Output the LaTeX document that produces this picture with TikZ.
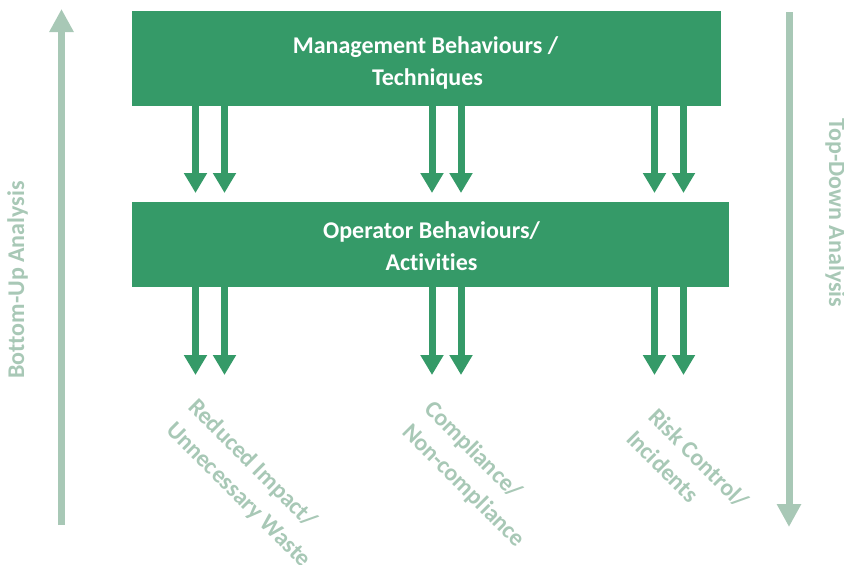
\documentclass[tikz,border=0pt]{standalone}
\usepackage{fontspec}
\setmainfont{Carlito}[Ligatures=CommonOff]
\usetikzlibrary{arrows.meta}
\definecolor{dgreen}{RGB}{53,154,104}
\definecolor{lgreen}{RGB}{168,200,182}
\begin{document}
\begin{tikzpicture}[x=1pt,y=-1pt,
  box/.style={fill=dgreen, draw=none, inner sep=0pt, rectangle},
  boxtext/.style={text=white, font=\bfseries\fontsize{24}{32}\selectfont, inner sep=0pt, anchor=base},
  outtext/.style={text=lgreen, font=\bfseries\fontsize{24}{32}\selectfont, inner sep=0pt, anchor=base west, rotate=-45},
  sidetext/.style={text=lgreen, font=\bfseries\fontsize{24}{32}\selectfont, inner sep=0pt, anchor=base},
  flow/.style={draw=dgreen, line width=7pt, -{Triangle[width=22pt,length=20pt]}},
  axis/.style={draw=lgreen, line width=7pt, -{Triangle[width=23pt,length=23pt]}}
]
\useasboundingbox (0,0) rectangle (844,565);
% boxes
\node[box, minimum width=589pt, minimum height=95pt] (mgmt) at (426.5,58.5) {};
\node[box, minimum width=597pt, minimum height=85pt] (oper) at (430.5,244.5) {};
\node[boxtext] (mgmtA) at (425.5,53) {Management Behaviours /};
\node[boxtext] (mgmtB) at (427.5,85) {Techniques};
\node[boxtext] (operA) at (431.5,238) {Operator Behaviours/};
\node[boxtext] (operB) at (431.5,270) {Activities};
% arrow tips
\coordinate (t1) at (195.5,193);
\coordinate (t2) at (224.5,193);
\coordinate (t3) at (432,193);
\coordinate (t4) at (461,193);
\coordinate (t5) at (654.5,193);
\coordinate (t6) at (683.5,193);
\coordinate (b1) at (195.5,375);
\coordinate (b2) at (224.5,375);
\coordinate (b3) at (432,375);
\coordinate (b4) at (461,375);
\coordinate (b5) at (654.5,375);
\coordinate (b6) at (683.5,375);
\foreach \i in {1,...,6}{
  \draw[flow] (mgmt.south -| t\i) -- (t\i);
  \draw[flow] (oper.south -| b\i) -- (b\i);
}
% side axes
\coordinate (upS) at (61.5,525);
\coordinate (upE) at (61.5,9);
\coordinate (dnS) at (789,12);
\coordinate (dnE) at (789,527);
\draw[axis] (upS) -- (upE);
\draw[axis] (dnS) -- (dnE);
\node[sidetext, rotate=90] (bu) at (24,280) {Bottom-Up Analysis};
\node[sidetext, rotate=-90] (td) at (829,213) {Top-Down Analysis};
% outcome labels
\node[outtext] (r1) at (187,408) {Reduced Impact/};
\node[outtext] (r2) at (165,431) {Unnecessary Waste};
\node[outtext] (c1) at (423,410) {Compliance/};
\node[outtext] (c2) at (401,433) {Non-compliance};
\node[outtext] (k1) at (647,418) {Risk Control/};
\node[outtext] (k2) at (625,440) {Incidents};
\end{tikzpicture}
\end{document}
